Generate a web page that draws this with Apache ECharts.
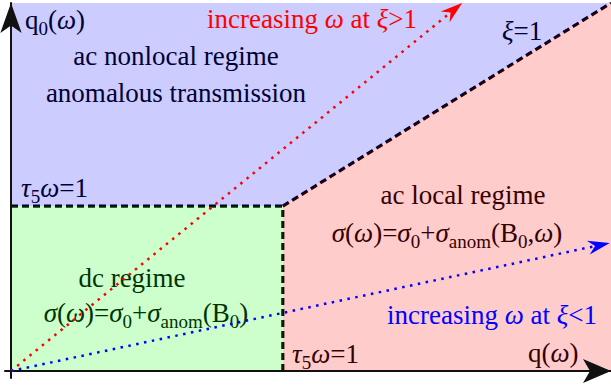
<!DOCTYPE html>
<html>
<head>
<meta charset="utf-8">
<script src="https://cdn.jsdelivr.net/npm/echarts@6/dist/echarts.min.js"></script>
<style>
  html, body { margin: 0; padding: 0; background: #ffffff; }
  #chart { width: 611px; height: 385px; }
</style>
</head>
<body>
<div id="chart"></div>
<script>
// Regime diagram in normalised (q, q0) units; both axes run 0..1.
const qTau = 0.453;   // τ5ω = 1 on the q axis
const q0Tau = 0.448;  // τ5ω = 1 on the q0 axis

// Regime regions (polygon vertices)
const dcRegime = [[0, 0], [qTau, 0], [qTau, q0Tau], [0, q0Tau]];
const acLocalRegime = [[qTau, 0], [1, 0], [1, 1], [qTau, q0Tau]];
const acNonlocalRegime = [[0, q0Tau], [qTau, q0Tau], [1, 1], [0, 1]];

// Regime boundaries
const tauLineHorizontal = [[0, q0Tau], [qTau, q0Tau]];
const tauLineVertical = [[qTau, 0], [qTau, q0Tau]];
const xiLine = [[qTau, q0Tau], [1, 1]];

// Paths of increasing ω: [q start, q0 start, q end, q0 end]
const pathXiAbove = [0, 0, 0.752, 1.0];
const pathXiBelow = [0, 0, 0.998, 0.348];

const FONT = '"Liberation Serif", "Times New Roman", serif';
const BASE = 27, SUB = 19, LINE = 35;

function rich(color) {
  return {
    n: { fontSize: BASE, fontFamily: FONT, lineHeight: LINE, fill: color },
    i: { fontSize: BASE, fontFamily: FONT, fontStyle: 'italic', lineHeight: LINE, fill: color },
    s: { fontSize: SUB, fontFamily: FONT, lineHeight: SUB, verticalAlign: 'bottom', fill: color }
  };
}

// text positioned by its baseline
function label(text, x, baseline, align, color, z) {
  return {
    type: 'text', x: x, y: baseline - 9, z: z, silent: true,
    style: {
      text: text, rich: rich(color), fill: color,
      fontSize: BASE, fontFamily: FONT, lineHeight: LINE,
      align: align, verticalAlign: 'middle'
    }
  };
}

const INK = '#000000';
const texts = [
  label('{n|q}{s|0}{n|(}{i|ω}{n|)}', 25, 29, 'left', INK, 1),
  label('{i|ξ}{n|=1}', 502, 40, 'left', INK, 1),
  label('{n|ac nonlocal regime}', 176, 65, 'center', INK, 1),
  label('{n|anomalous transmission}', 176, 102, 'center', INK, 1),
  label('{i|τ}{s|5}{i|ω}{n|=1}', 21, 197, 'left', INK, 1),
  label('{n|dc regime}', 132, 287, 'center', INK, 1),
  label('{i|σ}{n|(}{i|ω}{n|)=}{i|σ}{s|0}{n|+}{i|σ}{s|anom}{n|(B}{s|0}{n|)}', 146, 322, 'center', INK, 1),
  label('{n|ac local regime}', 463, 204, 'center', INK, 1),
  label('{i|σ}{n|(}{i|ω}{n|)=}{i|σ}{s|0}{n|+}{i|σ}{s|anom}{n|(B}{s|0}{n|,}{i|ω}{n|)}', 447, 242, 'center', INK, 1),
  label('{i|τ}{s|5}{i|ω}{n|=1}', 292, 363, 'left', INK, 1),
  label('{n|q(}{i|ω}{n|)}', 528, 362, 'left', INK, 1),
  label('{n|increasing }{i|ω}{n| at }{i|ξ}{n|>1}', 207, 28, 'left', '#ff0000', 10),
  label('{n|increasing }{i|ω}{n| at }{i|ξ}{n|<1}', 387, 324, 'left', '#0000ff', 10)
];

const regions = [
  { pts: acNonlocalRegime, color: '#0000ff' },
  { pts: dcRegime, color: '#00ff00' },
  { pts: acLocalRegime, color: '#ff0000' }
];

function boundary(points) {
  return {
    type: 'line', data: points, z: 1, symbol: 'none', silent: true,
    lineStyle: { color: '#000000', width: 3.2, type: [7, 4] },
    animation: false
  };
}

const chart = echarts.init(document.getElementById('chart'), null, { renderer: 'svg' });
chart.setOption({
  animation: false,
  grid: { left: 5, right: 0, top: 3, bottom: 7, containLabel: false, outerBoundsMode: 'none' },
  xAxis: {
    type: 'value', min: -0.01, max: 1, z: 3,
    axisLine: { onZero: true, symbol: ['none', 'arrow'], symbolSize: [18, 28], lineStyle: { color: '#111111', width: 2 } },
    axisTick: { show: false }, axisLabel: { show: false }, splitLine: { show: false }
  },
  yAxis: {
    type: 'value', min: -0.019, max: 1, z: 3,
    axisLine: { onZero: true, symbol: ['none', 'arrow'], symbolSize: [16, 30], lineStyle: { color: '#111111', width: 2 } },
    axisTick: { show: false }, axisLabel: { show: false }, splitLine: { show: false }
  },
  graphic: { elements: texts },
  series: [
    boundary(tauLineHorizontal),
    boundary(tauLineVertical),
    boundary(xiLine),
    {
      type: 'custom', z: 2, silent: true,
      data: regions.map((r, i) => [i, i]),
      renderItem: function (params, api) {
        const r = regions[params.dataIndex];
        return {
          type: 'polygon',
          shape: { points: r.pts.map(p => api.coord(p)) },
          style: { fill: r.color, opacity: 0.2 }
        };
      }
    },
    {
      type: 'custom', z: 4, silent: true,
      data: [
        { value: pathXiAbove, itemStyle: { color: '#ff0000' } },
        { value: pathXiBelow, itemStyle: { color: '#0000ff' } }
      ],
      renderItem: function (params, api) {
        const color = api.visual('color');
        const p0 = api.coord([api.value(0), api.value(1)]);
        const p1 = api.coord([api.value(2), api.value(3)]);
        const dx = p1[0] - p0[0], dy = p1[1] - p0[1];
        const len = Math.hypot(dx, dy);
        const ux = dx / len, uy = dy / len, px = -uy, py = ux;
        const L = 22, W = 7, notch = 15;
        const bx = p1[0] - ux * L, by = p1[1] - uy * L;
        const nx = p1[0] - ux * notch, ny = p1[1] - uy * notch;
        return {
          type: 'group',
          children: [
            {
              type: 'line',
              shape: { x1: p0[0], y1: p0[1], x2: nx, y2: ny },
              style: { stroke: color, lineWidth: 2.5, lineDash: [2.5, 5.5] }
            },
            {
              type: 'polygon',
              shape: { points: [p1, [bx + px * W, by + py * W], [nx, ny], [bx - px * W, by - py * W]] },
              style: { fill: color }
            }
          ]
        };
      }
    }
  ]
});
</script>
</body>
</html>
